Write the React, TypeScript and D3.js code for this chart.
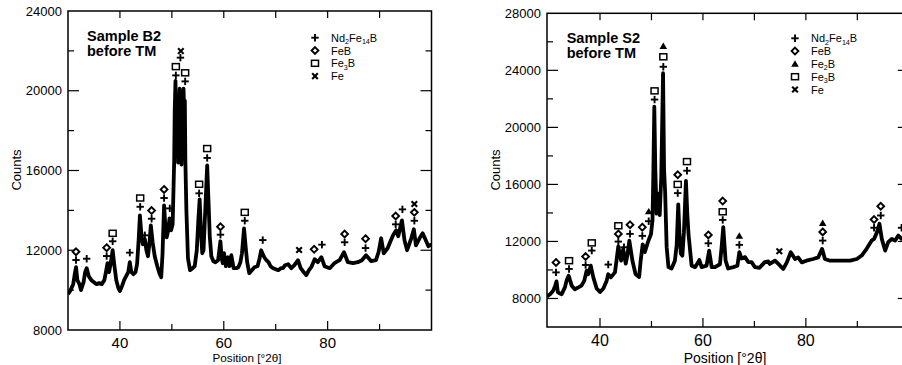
import React from 'react';
import * as d3 from 'd3';

type Pt = [number, number];
type Mk = [number, number, string];

// Sample B2 diffraction pattern: [2theta, counts]
const b2Pattern: Pt[] = [
  [30.0, 9800], [30.5, 10000], [31.0, 10300], [31.3, 10800], [31.55, 11150], [31.8, 10500], [32.2, 10300],
  [32.5, 10000], [33.0, 10400], [33.3, 10900], [33.6, 11100], [34.0, 10700], [34.5, 10500], [35.0, 10400],
  [35.5, 10300], [36.0, 10350], [36.5, 10300], [37.0, 10500], [37.3, 10900], [37.6, 11350], [37.9, 10900],
  [38.2, 11300], [38.6, 12000], [38.9, 11300], [39.3, 10500], [39.7, 10100], [40.0, 9950], [40.4, 10200],
  [40.8, 10500], [41.2, 10700], [41.6, 10900], [41.9, 11400], [42.2, 10900], [42.6, 10800], [43.0, 10900],
  [43.3, 11300], [43.6, 12500], [43.85, 13750], [44.1, 12900], [44.4, 12300], [44.8, 12550], [45.1, 12000],
  [45.4, 11700], [45.7, 12400], [45.95, 13250], [46.3, 12400], [46.7, 11700], [47.2, 11200], [47.6, 10850],
  [47.95, 10650], [48.2, 11800], [48.5, 14250], [48.75, 13200], [49.0, 12650], [49.3, 13000], [49.55, 13600],
  [49.85, 13000], [50.15, 13300], [50.45, 16500], [50.55, 19000], [50.7, 20500], [50.8, 18000], [50.9, 19200],
  [51.0, 17300], [51.1, 18800], [51.2, 16400], [51.35, 19000], [51.5, 20100], [51.6, 17800], [51.7, 18600],
  [51.85, 16300], [51.95, 18000], [52.1, 17000], [52.25, 20100], [52.4, 18500], [52.5, 19500], [52.6, 16500],
  [52.8, 14000], [53.1, 11600], [53.5, 11000], [54.0, 11100], [54.4, 11200], [54.8, 12000], [55.1, 13500],
  [55.35, 14550], [55.6, 13000], [55.85, 11850], [56.1, 12000], [56.4, 13800], [56.8, 16250], [57.05, 14500],
  [57.3, 12700], [57.6, 11700], [58.0, 11450], [58.4, 11400], [58.9, 11500], [59.1, 11900], [59.35, 12450],
  [59.6, 11600], [59.8, 11350], [60.05, 11850], [60.4, 11200], [60.8, 11650], [61.1, 11200], [61.45, 11750],
  [61.9, 11100], [62.4, 11100], [62.8, 11150], [63.2, 11400], [63.5, 11850], [63.9, 13100], [64.2, 12200],
  [64.5, 11400], [64.9, 10850], [65.4, 11000], [65.9, 11150], [66.5, 11200], [66.9, 11600], [67.2, 12000],
  [67.5, 11800], [67.8, 11650], [68.2, 11500], [68.6, 11400], [69.0, 11200], [69.5, 11100], [70.0, 11050],
  [70.5, 11000], [71.0, 11100], [71.4, 11100], [71.8, 11250], [72.4, 11300], [73.0, 11100], [73.6, 11250],
  [74.3, 11500], [74.8, 11100], [75.25, 10950], [75.9, 10750], [76.4, 11000], [76.85, 11150], [77.5, 11550],
  [78.1, 11400], [78.8, 11650], [79.4, 11200], [80.4, 11100], [81.3, 11350], [82.3, 11500], [83.15, 11900],
  [83.9, 11400], [84.9, 11350], [85.8, 11400], [86.6, 11500], [87.4, 11750], [88.4, 11450], [89.3, 11500],
  [89.8, 11900], [90.3, 12600], [90.8, 11850], [91.55, 12100], [92.1, 12450], [92.6, 12750], [93.2, 13000],
  [93.6, 12700], [94.3, 13500], [94.8, 12500], [95.3, 12000], [95.7, 12300], [96.1, 12600], [96.6, 13050],
  [97.0, 12250], [97.7, 12600], [98.3, 12850], [98.9, 12500], [99.4, 12200], [100.0, 12300],
];

// Sample S2 diffraction pattern: [2theta, counts]
const s2Pattern: Pt[] = [
  [29.7, 8150], [30.3, 8300], [30.9, 8550], [31.3, 8900], [31.55, 9200], [31.8, 8450], [32.2, 8350],
  [32.55, 8300], [33.2, 8800], [33.5, 9250], [33.9, 9600], [34.5, 8900], [35.1, 8650], [35.8, 8780],
  [36.4, 8900], [36.95, 9250], [37.4, 9950], [37.7, 9700], [38.2, 10300], [38.7, 9480], [39.35, 8700],
  [40.0, 8450], [40.65, 8700], [41.3, 9250], [41.6, 9700], [42.1, 9480], [42.9, 9830], [43.2, 10650],
  [43.55, 11650], [44.1, 10650], [44.5, 11450], [45.0, 10450], [45.3, 11000], [45.7, 12050], [46.3, 10650],
  [46.9, 9720], [47.6, 9500], [47.9, 10650], [48.3, 11800], [48.7, 11250], [49.4, 12050], [49.9, 12500],
  [50.2, 13500], [50.35, 16500], [50.55, 21450], [50.75, 17000], [51.0, 13950], [51.3, 15200], [51.6, 13850],
  [51.9, 16500], [52.25, 23800], [52.45, 17000], [52.65, 15500], [52.95, 11600], [53.3, 10200], [53.9, 10100],
  [54.55, 10650], [54.9, 11750], [55.2, 14600], [55.45, 12500], [55.7, 11150], [56.0, 11000], [56.3, 12600],
  [56.7, 16250], [56.95, 14000], [57.2, 12500], [57.8, 10300], [58.5, 10200], [59.1, 10550], [59.3, 10700],
  [59.75, 10200], [60.7, 10300], [61.2, 11350], [61.7, 10200], [62.35, 10200], [63.3, 10400], [63.6, 11500],
  [63.95, 13000], [64.4, 10650], [64.9, 10100], [65.9, 10200], [66.7, 10300], [67.07, 11250], [67.5, 10800],
  [68.2, 10900], [68.8, 10550], [69.45, 10550], [70.1, 10200], [71.0, 10150], [72.0, 10550], [72.7, 10600],
  [73.0, 10420], [74.0, 10650], [74.65, 10420], [75.6, 10070], [76.3, 10530], [77.06, 11240], [77.9, 10770],
  [78.5, 10880], [79.2, 10530], [80.1, 10650], [81.4, 10770], [82.4, 10880], [83.15, 11480], [83.7, 10770],
  [84.7, 10650], [86.0, 10650], [87.3, 10650], [88.6, 10650], [89.9, 10770], [90.85, 11010], [91.8, 11480],
  [92.8, 12060], [93.25, 12180], [93.77, 12600], [94.3, 13240], [94.75, 12180], [95.4, 11360], [96.0, 11950],
  [96.7, 12180], [97.35, 12060], [97.97, 12410], [98.6, 12180], [99.3, 12300], [100.0, 12200],
];

// Phase markers: [2theta, counts position, phase]
const b2Markers: Mk[] = [
  [31.54, 11925, 'FeB'], [31.54, 11510, 'Nd2Fe14B'], [33.6, 11575, 'Nd2Fe14B'],
  [37.44, 12130, 'FeB'], [37.44, 11710, 'Nd2Fe14B'], [38.6, 12850, 'Fe3B'], [38.6, 12450, 'Nd2Fe14B'],
  [41.9, 11880, 'Nd2Fe14B'], [43.9, 14620, 'Fe3B'], [43.9, 14180, 'Nd2Fe14B'], [44.8, 12750, 'Nd2Fe14B'],
  [46.1, 13990, 'FeB'], [46.1, 13580, 'Nd2Fe14B'], [48.5, 15050, 'FeB'], [48.5, 14620, 'Nd2Fe14B'],
  [49.6, 14100, 'Nd2Fe14B'], [50.77, 21210, 'Fe3B'], [50.77, 20770, 'Nd2Fe14B'],
  [51.73, 21990, 'Fe'], [51.65, 21660, 'Nd2Fe14B'], [52.56, 20900, 'Fe3B'], [52.56, 20470, 'Nd2Fe14B'],
  [55.25, 15310, 'Fe3B'], [55.25, 14855, 'Nd2Fe14B'], [56.8, 17100, 'Fe3B'], [56.8, 16630, 'Nd2Fe14B'],
  [59.36, 13180, 'FeB'], [59.36, 12780, 'Nd2Fe14B'], [64.04, 13900, 'Fe3B'], [64.04, 13480, 'Nd2Fe14B'],
  [67.5, 12510, 'Nd2Fe14B'], [74.5, 12010, 'Fe'], [77.4, 12045, 'FeB'], [78.9, 12280, 'Nd2Fe14B'],
  [83.27, 12815, 'FeB'], [83.27, 12400, 'Nd2Fe14B'], [87.3, 12580, 'FeB'], [87.3, 12110, 'Nd2Fe14B'],
  [93.1, 13720, 'FeB'], [93.1, 13300, 'Nd2Fe14B'], [94.4, 14050, 'Nd2Fe14B'],
  [96.7, 14320, 'Fe'], [96.7, 13900, 'FeB'], [96.7, 13480, 'Nd2Fe14B'],
];

const s2Markers: Mk[] = [
  [31.45, 10530, 'FeB'], [31.45, 9830, 'Nd2Fe14B'], [33.98, 10650, 'Fe3B'], [33.98, 10070, 'Nd2Fe14B'],
  [37.2, 10940, 'FeB'], [37.2, 10350, 'Nd2Fe14B'], [38.4, 11900, 'Fe3B'], [38.4, 11360, 'Nd2Fe14B'],
  [41.6, 10380, 'Nd2Fe14B'], [43.56, 13100, 'Fe3B'], [43.56, 12530, 'FeB'], [43.56, 11990, 'Nd2Fe14B'],
  [44.66, 11590, 'Nd2Fe14B'], [45.83, 13170, 'FeB'], [45.83, 12530, 'Nd2Fe14B'],
  [48.22, 13000, 'FeB'], [48.22, 12390, 'Nd2Fe14B'], [49.46, 14100, 'Fe2B'], [49.46, 13420, 'Nd2Fe14B'],
  [50.6, 22560, 'Fe3B'], [50.6, 21950, 'Nd2Fe14B'], [51.3, 15220, 'Nd2Fe14B'],
  [52.3, 25700, 'Fe2B'], [52.3, 24950, 'Fe3B'], [52.3, 24250, 'Nd2Fe14B'],
  [55.1, 16680, 'FeB'], [55.1, 16000, 'Fe3B'], [55.1, 15390, 'Nd2Fe14B'],
  [56.9, 17600, 'Fe3B'], [56.9, 16960, 'Nd2Fe14B'], [61.05, 12460, 'FeB'], [61.05, 11870, 'Nd2Fe14B'],
  [63.84, 14830, 'FeB'], [63.84, 14080, 'Fe3B'], [63.84, 13510, 'Nd2Fe14B'],
  [67.07, 12390, 'Fe2B'], [67.07, 11760, 'Nd2Fe14B'], [74.84, 11310, 'Fe'],
  [83.27, 13280, 'Fe2B'], [83.27, 12670, 'FeB'], [83.27, 12060, 'Nd2Fe14B'],
  [93.25, 13540, 'FeB'], [93.25, 12960, 'Nd2Fe14B'], [94.55, 14470, 'FeB'], [94.55, 13820, 'Nd2Fe14B'],
  [98.6, 12960, 'Nd2Fe14B'],
];

const b2Legend = ['Nd2Fe14B', 'FeB', 'Fe3B', 'Fe'];
const s2Legend = ['Nd2Fe14B', 'FeB', 'Fe2B', 'Fe3B', 'Fe'];

const xTickValues = [40, 50, 60, 70, 80, 90];
const xTickLabels = [40, 60, 80];
const b2YLabels = [8000, 12000, 16000, 20000, 24000];
const s2YLabels = [8000, 12000, 16000, 20000, 24000, 28000];

const FONT = "'Liberation Sans', Arial, Helvetica, sans-serif";

function Marker({ x, y, type }: { x: number; y: number; type: string }) {
  if (type === 'Nd2Fe14B') {
    return (
      <g stroke="#000" strokeWidth={1.9}>
        <line x1={x - 3.7} x2={x + 3.7} y1={y} y2={y} />
        <line x1={x} x2={x} y1={y - 3.7} y2={y + 3.7} />
      </g>
    );
  }
  if (type === 'FeB') {
    const s = 3.4;
    return (
      <polygon
        points={`${x},${y - s} ${x + s},${y} ${x},${y + s} ${x - s},${y}`}
        fill="#fff" stroke="#000" strokeWidth={1.9}
      />
    );
  }
  if (type === 'Fe3B') {
    return <rect x={x - 3.5} y={y - 3} width={7} height={6} fill="#fff" stroke="#000" strokeWidth={1.5} />;
  }
  if (type === 'Fe2B') {
    return <polygon points={`${x},${y - 3.6} ${x + 3.8},${y + 2.8} ${x - 3.8},${y + 2.8}`} fill="#000" />;
  }
  // Fe
  return (
    <g stroke="#000" strokeWidth={2.1}>
      <line x1={x - 2.8} x2={x + 2.8} y1={y - 2.8} y2={y + 2.8} />
      <line x1={x - 2.8} x2={x + 2.8} y1={y + 2.8} y2={y - 2.8} />
    </g>
  );
}

function PhaseLabel({ x, y, name, size }: { x: number; y: number; name: string; size: number }) {
  const parts = name.match(/[A-Za-z]+|\d+/g) || [];
  let sub = false;
  return (
    <text x={x} y={y} fontFamily={FONT} fontSize={size} fill="#000">
      {parts.map((p, i) => {
        const isDigit = /\d/.test(p);
        const dy = isDigit && !sub ? 2.5 : !isDigit && sub ? -2.5 : 0;
        sub = isDigit;
        return (
          <tspan key={i} dy={dy} fontSize={isDigit ? size * 0.65 : size}>
            {p}
          </tspan>
        );
      })}
    </text>
  );
}

interface PlotProps {
  id: string;
  pattern: Pt[];
  markers: Mk[];
  legend: string[];
  xDomain: [number, number];
  xRange: [number, number];
  yDomain: [number, number];
  yRange: [number, number];
  yLabels: number[];
  title: string[];
  titleX: number;
  titleY: number;
  legendX: number;
  legendY: number;
  xTickFont: number;
  xTickBaseline: number;
  xLabelFont: number;
  xLabelX: number;
  xLabelY: number;
  xLabelLength?: number;
  yLabelX: number;
}

function Plot(p: PlotProps) {
  const x = d3.scaleLinear().domain(p.xDomain).range(p.xRange);
  const y = d3.scaleLinear().domain(p.yDomain).range(p.yRange);
  const line = d3.line<Pt>().x((d) => x(d[0])).y((d) => y(d[1]));
  const [x0, x1] = p.xRange;
  const [yb, yt] = p.yRange;
  const yTicks = y.ticks((p.yDomain[1] - p.yDomain[0]) / 2000).filter((v) => v > p.yDomain[0] && v < p.yDomain[1]);
  const major = 11;
  const minor = 6;
  return (
    <g>
      <defs>
        <clipPath id={`clip-${p.id}`}>
          <rect x={x0} y={yt} width={x1 - x0} height={yb - yt} />
        </clipPath>
      </defs>
      <path
        d={line(p.pattern) || ''}
        fill="none"
        stroke="#000"
        strokeWidth={3.8}
        strokeLinejoin="round"
        clipPath={`url(#clip-${p.id})`}
      />
      <rect x={x0} y={yt} width={x1 - x0} height={yb - yt} fill="none" stroke="#000" strokeWidth={1.5} />
      {yTicks.map((v) => {
        const len = p.yLabels.includes(v) ? major : minor;
        return (
          <g key={`yt${v}`} stroke="#000" strokeWidth={1.2}>
            <line x1={x0} x2={x0 + len} y1={y(v)} y2={y(v)} />
            <line x1={x1} x2={x1 - len} y1={y(v)} y2={y(v)} />
          </g>
        );
      })}
      {p.yLabels.map((v) => (
        <text key={`yl${v}`} x={x0 - 6} y={y(v) + 4.5} textAnchor="end" fontFamily={FONT} fontSize={13} fill="#000">
          {v}
        </text>
      ))}
      {xTickValues.map((v) => {
        const len = xTickLabels.includes(v) ? 9 : 6;
        return (
          <g key={`xt${v}`} stroke="#000" strokeWidth={1.2}>
            <line x1={x(v)} x2={x(v)} y1={yb} y2={yb - len} />
            <line x1={x(v)} x2={x(v)} y1={yt} y2={yt + 7} />
          </g>
        );
      })}
      {xTickLabels.map((v) => (
        <text key={`xl${v}`} x={x(v)} y={p.xTickBaseline} textAnchor="middle" fontFamily={FONT} fontSize={p.xTickFont} fill="#000">
          {v}
        </text>
      ))}
      <text
        x={p.xLabelX}
        y={p.xLabelY}
        textAnchor="middle"
        fontFamily={FONT}
        fontSize={p.xLabelFont}
        fill="#000"
        {...(p.xLabelLength ? { textLength: p.xLabelLength, lengthAdjust: 'spacingAndGlyphs' } : {})}
      >
        Position [°2θ]
      </text>
      <text
        transform={`translate(${p.yLabelX},170) rotate(-90)`}
        textAnchor="middle"
        fontFamily={FONT}
        fontSize={13}
        fill="#000"
      >
        Counts
      </text>
      {p.title.map((t, i) => (
        <text key={t} x={p.titleX} y={p.titleY + i * 15} fontFamily={FONT} fontSize={14.5} fontWeight="bold" fill="#000">
          {t}
        </text>
      ))}
      {p.legend.map((name, i) => {
        const ly = p.legendY + i * 12.8;
        return (
          <g key={name}>
            <Marker x={p.legendX} y={ly} type={name} />
            <PhaseLabel x={p.legendX + 16} y={ly + 4} name={name} size={11} />
          </g>
        );
      })}
      {p.markers.map((m, i) => (
        <Marker key={i} x={x(m[0])} y={y(m[1])} type={m[2]} />
      ))}
    </g>
  );
}

export default function App() {
  return (
    <svg width={902} height={365} style={{ position: 'absolute', left: 0, top: 0, background: '#fff' }}>
      <rect width={902} height={365} fill="#fff" />
      <Plot
        id="b2"
        pattern={b2Pattern}
        markers={b2Markers}
        legend={b2Legend}
        xDomain={[30, 100]}
        xRange={[68, 431.5]}
        yDomain={[8000, 24000]}
        yRange={[330, 11]}
        yLabels={b2YLabels}
        title={['Sample B2', 'before TM']}
        titleX={87}
        titleY={41}
        legendX={315}
        legendY={37.7}
        xTickFont={15}
        xTickBaseline={347.5}
        xLabelFont={11}
        xLabelX={247}
        xLabelY={361.5}
        xLabelLength={69}
        yLabelX={20.5}
      />
      <Plot
        id="s2"
        pattern={s2Pattern}
        markers={s2Markers}
        legend={s2Legend}
        xDomain={[29.7, 100]}
        xRange={[547, 908.8]}
        yDomain={[6000, 28000]}
        yRange={[327, 13.3]}
        yLabels={s2YLabels}
        title={['Sample S2', 'before TM']}
        titleX={566.7}
        titleY={43}
        legendX={795}
        legendY={38.3}
        xTickFont={16}
        xTickBaseline={346}
        xLabelFont={14}
        xLabelX={725}
        xLabelY={362.5}
        yLabelX={500}
      />
    </svg>
  );
}
